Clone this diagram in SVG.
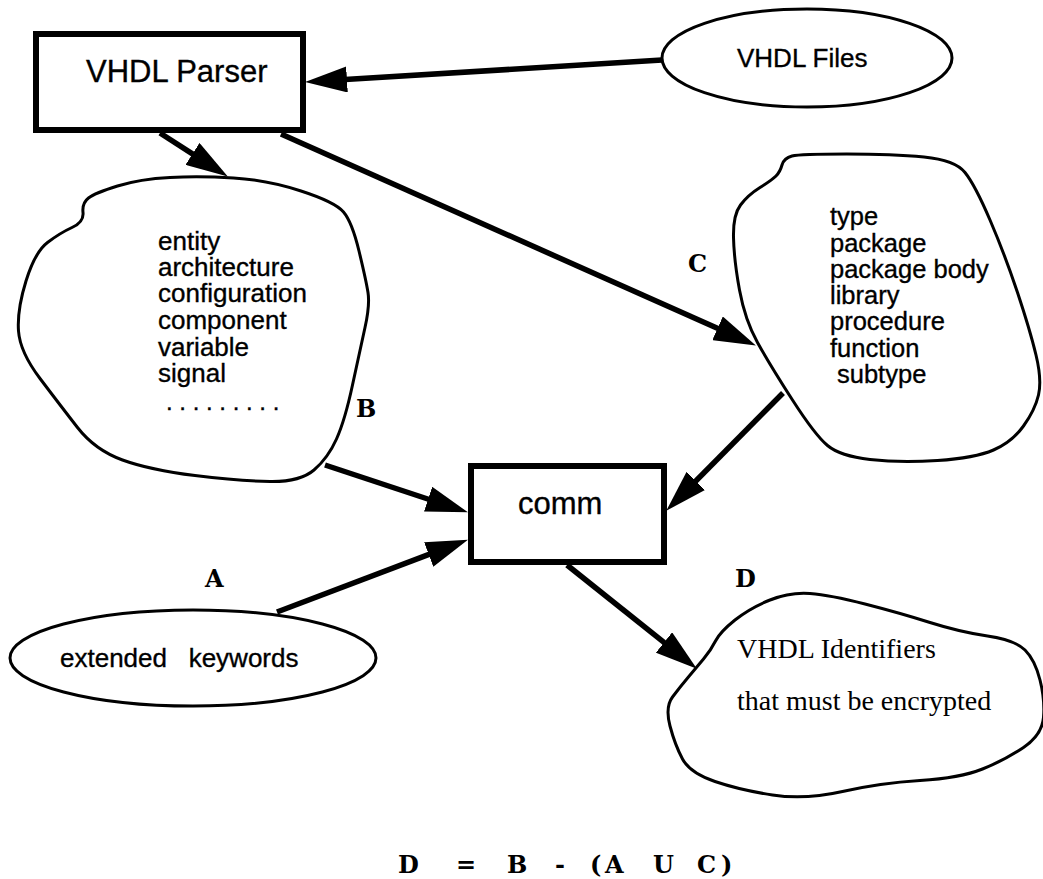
<svg xmlns="http://www.w3.org/2000/svg" width="1043" height="879" viewBox="0 0 1043 879">
<style>
.box{fill:#fff;stroke:#000;stroke-width:6}
.shape{fill:#fff;stroke:#000;stroke-width:3}
.sans{font-family:"Liberation Sans",Arial,sans-serif;fill:#000;stroke:#000;stroke-width:0.35}
.lbl{font-family:"DejaVu Serif","Liberation Serif",serif;font-weight:bold;font-size:24px;fill:#000}
.ser{font-family:"Liberation Serif","Times New Roman",serif;font-size:28px;fill:#000}
.conn line{stroke:#000;stroke-width:5.5;marker-end:url(#ah)}
</style>
<defs>
<marker id="ah" viewBox="0 0 42 26" markerWidth="42" markerHeight="26" refX="6" refY="13" orient="auto" markerUnits="userSpaceOnUse">
<path d="M0,0 L42,13 L0,26 Z" fill="#000"/>
</marker>
</defs>
<rect width="1043" height="879" fill="#fff"/>

<g id="parser">
<rect class="box" x="36" y="34" width="267" height="96"/>
<text class="sans" x="86" y="82" font-size="31">VHDL Parser</text>
</g>

<g id="files">
<ellipse class="shape" cx="807" cy="58" rx="145" ry="49"/>
<text class="sans" x="737" y="67" font-size="26">VHDL Files</text>
</g>

<g id="cloudB">
<path class="shape" d="M 83,212.5 Q 82,203 88.5,198 Q 95,193 117.5,186 Q 140,179 170,177.5 Q 200,176 233.5,178 Q 267,180 301,191 Q 335,202 343.5,212 Q 352,222 359,251 Q 366,280 368,292.5 Q 370,305 365,327.5 Q 360,350 352.5,385 Q 345,420 336.5,439 Q 328,458 314,470 Q 300,482 270,481.5 Q 240,481 195,475.5 Q 150,470 122.5,460 Q 95,450 77.5,427.5 Q 60,405 40,378.5 Q 20,352 18.5,331 Q 17,310 26,281 Q 35,252 47.5,242.5 Q 60,233 72,227.5 Q 84,222 83,212.5 Z"/>
<text class="sans" font-size="26">
<tspan x="158" y="250">entity</tspan>
<tspan x="158" y="276">architecture</tspan>
<tspan x="158" y="302">configuration</tspan>
<tspan x="158" y="329">component</tspan>
<tspan x="158" y="356">variable</tspan>
<tspan x="158" y="382">signal</tspan>
</text>
<text class="sans" x="166" y="410" font-size="24">. . . . . . . . .</text>
</g>

<g id="cloudC">
<path class="shape" d="M782,165 Q784,158 792,156 Q800,154 846.5,154 Q893,154 924,157 Q955,160 965,172.5 Q975,185 990,220 Q1005,255 1017.5,292.5 Q1030,330 1036,355 Q1042,380 1038.5,395 Q1035,410 1023.5,426 Q1012,442 993.5,450 Q975,458 937.5,460.5 Q900,463 870,459.5 Q840,456 827.5,445.5 Q815,435 792.5,400 Q770,365 757.5,342.5 Q745,320 739.5,290 Q734,260 733.5,237.5 Q733,215 740.5,205 Q748,195 760,187.5 Q772,180 776,176 Q780,172 782,165 Z"/>
<text class="sans" font-size="25.5">
<tspan x="830" y="225">type</tspan>
<tspan x="830" y="252">package</tspan>
<tspan x="830" y="278">package body</tspan>
<tspan x="830" y="304">library</tspan>
<tspan x="830" y="330">procedure</tspan>
<tspan x="830" y="357">function</tspan>
<tspan x="837" y="383">subtype</tspan>
</text>
</g>

<g id="comm">
<rect class="box" x="471" y="466" width="193" height="96"/>
<text class="sans" x="518" y="514" font-size="31">comm</text>
</g>

<g id="keywords">
<ellipse class="shape" cx="193" cy="658" rx="183" ry="48"/>
<text class="sans" x="60" y="667" font-size="26">extended&#160;&#160; keywords</text>
</g>

<g id="cloudD">
<path class="shape" d="M703.5,659 Q711,650 715.5,641 Q720,632 735,620 Q750,608 770,600 Q790,592 810,593.5 Q830,595 865,604 Q900,613 930,622.5 Q960,632 987.5,636 Q1015,640 1025,650 Q1035,660 1040,680 Q1045,700 1043.5,717.5 Q1042,735 1023.5,747.5 Q1005,760 982.5,769 Q960,778 920,780.5 Q880,783 842.5,791.5 Q805,800 772.5,795 Q740,790 715,781.5 Q690,773 682.5,759 Q675,745 670,726 Q665,707 672.5,697 Q680,687 688,677.5 Q696,668 703.5,659 Z"/>
<text class="ser" x="737" y="658">VHDL Identifiers</text>
<text class="ser" x="737" y="710">that must be encrypted</text>
</g>

<g id="connectors" class="conn">
<line x1="662" y1="60" x2="341" y2="79.8"/>
<line x1="160" y1="133" x2="197.5" y2="157.1"/>
<line x1="281" y1="134" x2="723" y2="330.8"/>
<line x1="325" y1="465" x2="433.8" y2="501"/>
<line x1="277" y1="612" x2="434.3" y2="552.4"/>
<line x1="783" y1="393" x2="691.6" y2="485.2"/>
<line x1="567" y1="565" x2="668.7" y2="646.2"/>
</g>

<g id="labels">
<text class="lbl" x="356" y="417">B</text>
<text class="lbl" x="688" y="272">C</text>
<text class="lbl" x="205" y="587">A</text>
<text class="lbl" x="735" y="587">D</text>
<text class="lbl" xml:space="preserve" x="398 418 456 472 507 528 555 566 590 605 630 653 672 697 721" y="873">D = B - (A U C)</text>
</g>
</svg>
